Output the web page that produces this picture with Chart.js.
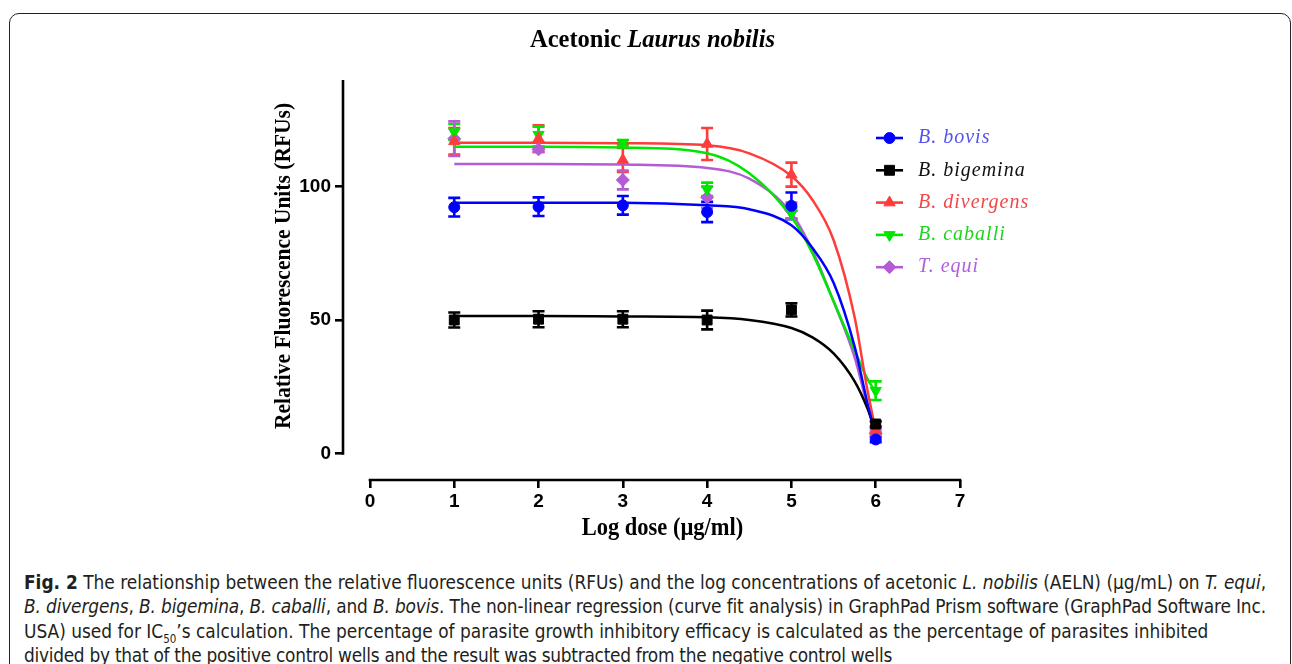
<!DOCTYPE html>
<html>
<head>
<meta charset="utf-8">
<script src="https://cdn.jsdelivr.net/npm/chart.js@4.4.1/dist/chart.umd.min.js"></script>
<style>
  html, body { margin: 0; padding: 0; background: #fff; }
  body { width: 1292px; height: 664px; position: relative; overflow: hidden; }
  #frame { position: absolute; left: 9px; top: 13px; width: 1282px; height: 720px; border: 1.5px solid #222; border-radius: 10px; box-sizing: border-box; }
  #chart { position: absolute; left: 0; top: 0; }
  #caption { position: absolute; left: 24px; top: 570px; font-family: "Liberation Sans Narrow", "DejaVu Sans Condensed", sans-serif; font-size: 18.9px; line-height: 24.3px; color: #231f20; white-space: nowrap; }
  #caption sub { font-size: 11.5px; line-height: 0; }
  #caption .l2 { letter-spacing: -0.15px; }
  #caption .l4 { letter-spacing: -0.28px; }
</style>
</head>
<body>
<div id="frame"></div>
<canvas id="chart" width="1292" height="560"></canvas>
<div id="caption">
  <div><b>Fig. 2</b> The relationship between the relative fluorescence units (RFUs) and the log concentrations of acetonic <i>L. nobilis</i> (AELN) (µg/mL) on <i>T. equi</i>,</div>
  <div class="l2"><i>B. divergens</i>, <i>B. bigemina</i>, <i>B. caballi</i>, and <i>B. bovis</i>. The non-linear regression (curve fit analysis) in GraphPad Prism software (GraphPad Software Inc.</div>
  <div>USA) used for IC<sub>50</sub>’s calculation. The percentage of parasite growth inhibitory efficacy is calculated as the percentage of parasites inhibited</div>
  <div class="l4">divided by that of the positive control wells and the result was subtracted from the negative control wells</div>
</div>
<script>
// doses (log µg/ml) of the measured points
const doses = [1, 2, 3, 4, 5, 6];
const species = ["B. bovis", "B. bigemina", "B. divergens", "B. caballi", "T. equi"];

// mean RFU and SEM
const bovisMean = [92.3, 92.5, 93, 90.5, 92.8, 5.2];
const bovisSem = [3.5, 3.5, 3.5, 3.8, 5, 1];
const bigeminaMean = [50, 50.3, 50.3, 50, 53.8, 11];
const bigeminaSem = [2.8, 3, 3, 3.5, 2.5, 1];
const divergensMean = [117, 118, 110, 116, 104.5, 8.5];
const divergensSem = [5, 5, 4.5, 6, 4.5, 1];
const caballiMean = [120.5, 119.5, 116.5, 99, 90, 23.5];
const caballiSem = [3, 3, 1, 2.5, 2, 3.5];
const equiMean = [118, 114, 102.5, 96, 91, 7.5];
const equiSem = [6.5, 1, 3.5, 4, 3, 1];

// fitted curves, read at a few doses along each line
const fitDoses = [1, 2, 3, 4, 4.5, 5, 5.25, 5.5, 5.75, 5.9, 6];
const bovisFit = [94, 94, 94, 93, 91.5, 85.5, 77, 64, 40, 19, 6];
const bigeminaFit = [51.5, 51.5, 51.3, 51, 50, 47, 43.5, 37.5, 27, 17, 8];
const divergensFit = [116.5, 116.5, 116.3, 115.5, 112.5, 104, 95, 80, 51, 24, 8.5];
const caballiFit = [115, 115, 114.7, 112.5, 105, 88.6, 75, 57, 38.6, 28, 23];
const equiFit = [108.5, 108.5, 108.3, 107, 103, 90, 76, 57, 36, 18, 7.5];

const xTicks = [0, 1, 2, 3, 4, 5, 6, 7];
const yTicks = [0, 50, 100];

const series = [
  { name: species[0], mean: bovisMean, sem: bovisSem, fit: bovisFit, color: "#0000ff", text: "#5252ee", style: "circle", rot: 0, r: 5.5 },
  { name: species[1], mean: bigeminaMean, sem: bigeminaSem, fit: bigeminaFit, color: "#000000", text: "#111111", style: "rect", rot: 0, r: 7 },
  { name: species[2], mean: divergensMean, sem: divergensSem, fit: divergensFit, color: "#ff3c3c", text: "#f04848", style: "triangle", rot: 0, r: 6.5 },
  { name: species[3], mean: caballiMean, sem: caballiSem, fit: caballiFit, color: "#00e600", text: "#1fd41f", style: "triangle", rot: 180, r: 6.5 },
  { name: species[4], mean: equiMean, sem: equiSem, fit: equiFit, color: "#b35cd6", text: "#b060d8", style: "rectRot", rot: 0, r: 6.5 },
];

const datasets = [];
series.forEach((s) => {
  datasets.push({
    type: "line",
    label: s.name + " fit",
    data: fitDoses.map((x, i) => ({ x, y: s.fit[i] })),
    borderColor: s.color,
    borderWidth: 2.5,
    pointRadius: 0,
    cubicInterpolationMode: "monotone",
    fill: false,
    order: 2,
  });
  datasets.push({
    type: "scatter",
    label: s.name,
    data: doses.map((x, i) => ({ x, y: s.mean[i] })),
    sem: s.sem,
    backgroundColor: s.color,
    borderColor: s.color,
    borderWidth: 1,
    pointStyle: s.style,
    rotation: s.rot,
    pointRadius: s.r,
    order: 1,
  });
});

const errorBars = {
  id: "errorBars",
  beforeDatasetsDraw(chart) {
    const { ctx, scales: { x, y } } = chart;
    ctx.save();
    ctx.lineWidth = 2.6;
    chart.data.datasets.forEach((ds) => {
      if (!ds.sem) return;
      ctx.strokeStyle = ds.borderColor;
      ds.data.forEach((p, i) => {
        const px = x.getPixelForValue(p.x);
        const top = y.getPixelForValue(p.y + ds.sem[i]);
        const bot = y.getPixelForValue(p.y - ds.sem[i]);
        ctx.beginPath();
        ctx.moveTo(px, top); ctx.lineTo(px, bot);
        ctx.moveTo(px - 6, top); ctx.lineTo(px + 6, top);
        ctx.moveTo(px - 6, bot); ctx.lineTo(px + 6, bot);
        ctx.stroke();
      });
    });
    ctx.restore();
  },
};

// prism style axes, titles and legend
const decorations = {
  id: "decorations",
  afterDraw(chart) {
    const { ctx, scales: { x, y } } = chart;
    const area = chart.chartArea;
    ctx.save();
    ctx.strokeStyle = "#000";
    ctx.lineWidth = 2.6;
    ctx.beginPath();
    ctx.moveTo(area.left, y.getPixelForValue(0) + 1.3);
    ctx.lineTo(area.left, y.getPixelForValue(140));
    ctx.moveTo(x.getPixelForValue(0) - 1.3, area.bottom);
    ctx.lineTo(x.getPixelForValue(7) + 1.3, area.bottom);
    ctx.stroke();

    // chart title
    ctx.fillStyle = "#000";
    ctx.textBaseline = "middle";
    const a = "Acetonic ";
    const b = "Laurus nobilis";
    ctx.font = "bold 24.5px 'Liberation Serif'";
    const wa = ctx.measureText(a).width;
    ctx.font = "italic bold 24.5px 'Liberation Serif'";
    const wb = ctx.measureText(b).width;
    const tx = 652.5 - (wa + wb) / 2;
    ctx.textAlign = "left";
    ctx.font = "bold 24.5px 'Liberation Serif'";
    ctx.fillText(a, tx, 41);
    ctx.font = "italic bold 24.5px 'Liberation Serif'";
    ctx.fillText(b, tx + wa, 41);

    // x title
    ctx.save();
    ctx.translate(662.5, 528);
    ctx.scale(1, 1.12);
    ctx.textAlign = "center";
    ctx.font = "bold 22.5px 'Liberation Serif'";
    ctx.fillText("Log dose (µg/ml)", 0, 0);
    ctx.restore();

    // y title
    ctx.save();
    ctx.translate(284, 266);
    ctx.rotate(-Math.PI / 2);
    ctx.scale(1, 1.08);
    ctx.textAlign = "center";
    ctx.font = "bold 21.5px 'Liberation Serif'";
    ctx.fillText("Relative Fluorescence Units (RFUs)", 0, 0);
    ctx.restore();

    // legend
    series.forEach((s, i) => {
      const ly = 138 + i * 32.3;
      ctx.strokeStyle = s.color;
      ctx.fillStyle = s.color;
      ctx.lineWidth = 2.6;
      ctx.beginPath();
      ctx.moveTo(876, ly);
      ctx.lineTo(903, ly);
      ctx.stroke();
      ctx.lineWidth = 1;
      Chart.helpers.drawPoint(ctx, { pointStyle: s.style, rotation: s.rot, radius: s.r, borderWidth: 1 }, 889.5, ly);
      ctx.fillStyle = s.text;
      ctx.font = "italic 20px 'Liberation Serif'";
      ctx.letterSpacing = "1px";
      ctx.textAlign = "left";
      ctx.fillText(s.name, 918, ly);
      ctx.letterSpacing = "0px";
    });
    ctx.restore();
  },
};

const tickFont = { family: "'Liberation Sans', Arial, sans-serif", weight: "bold", size: 19 };
const tickGrid = { drawOnChartArea: false, drawTicks: true, tickLength: 8, color: "#000", lineWidth: 2.6 };

new Chart(document.getElementById("chart"), {
  type: "scatter",
  data: { datasets },
  options: {
    responsive: false,
    animation: false,
    layout: { padding: { left: 0, right: 332, top: 80, bottom: 0 } },
    plugins: { legend: { display: false }, tooltip: { enabled: false } },
    scales: {
      x: {
        type: "linear",
        min: -0.32,
        max: 7,
        afterBuildTicks: (s) => { s.ticks = xTicks.map((v) => ({ value: v })); },
        afterFit: (s) => { s.height = 80; },
        ticks: { font: tickFont, color: "#000", padding: 2 },
        grid: tickGrid,
        border: { display: false },
      },
      y: {
        type: "linear",
        min: -10,
        max: 140,
        afterBuildTicks: (s) => { s.ticks = yTicks.map((v) => ({ value: v })); },
        afterFit: (s) => { s.width = 343; },
        ticks: { font: tickFont, color: "#000", padding: 4 },
        grid: tickGrid,
        border: { display: false },
      },
    },
  },
  plugins: [errorBars, decorations],
});
</script>
</body>
</html>
